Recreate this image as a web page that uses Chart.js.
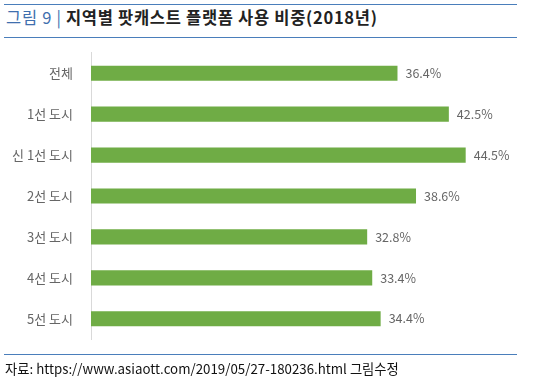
<!DOCTYPE html>
<html>
<head>
<meta charset="UTF-8"/>
<title>지역별 팟캐스트 플랫폼 사용 비중</title>
<script src="https://cdn.jsdelivr.net/npm/chart.js@4"></script>
<style>
    body { margin: 0; background: #fff; font-family: "Noto Sans CJK KR", sans-serif; }
    #wrap { position: relative; width: 534px; height: 387px; }
    .rule { position: absolute; left: 4px; width: 513px; height: 0; border-top: 1.5px solid #4a7ebb; }
    #title { position: absolute; left: 6px; top: 5px; font-size: 16.5px; letter-spacing: 0.7px; white-space: nowrap; }
    #title .num { color: #3f6fae; }
    #title .txt { font-weight: bold; color: #222; }
    #chartBox { position: absolute; left: 0; top: 35px; width: 534px; height: 322px; }
    #source { position: absolute; left: 5px; top: 359px; font-size: 13.3px; color: #111; white-space: nowrap; }
</style>
</head>
<body>
<div id="wrap">
    <div class="rule" style="top:4px"></div>
    <div id="title"><span class="num">그림 9 |</span> <span class="txt">지역별 팟캐스트 플랫폼 사용 비중(2018년)</span></div>
    <div class="rule" style="top:37px"></div>
    <div id="chartBox"><canvas id="barChart" width="534" height="322"></canvas></div>
    <div class="rule" style="top:354px"></div>
    <div id="source">자료: https://www.asiaott.com/2019/05/27-180236.html 그림수정</div>
</div>
<script type="text/javascript">
    // 항목
    var categories = ["전체", "1선 도시", "신 1선 도시", "2선 도시", "3선 도시", "4선 도시", "5선 도시"];
    // 사용 비중(%)
    var shares = [36.4, 42.5, 44.5, 38.6, 32.8, 33.4, 34.4];

    // 막대 끝에 값 표시
    var valueLabels = {
        id: 'valueLabels',
        afterDatasetsDraw: function(chart) {
            var ctx = chart.ctx;
            var meta = chart.getDatasetMeta(0);
            ctx.save();
            ctx.font = '12.5px "Noto Sans CJK KR", sans-serif';
            ctx.fillStyle = '#666';
            ctx.textAlign = 'left';
            ctx.textBaseline = 'middle';
            meta.data.forEach(function(bar, i) {
                ctx.fillText(shares[i].toFixed(1) + '%', bar.x + 8, bar.y);
            });
            ctx.restore();
        }
    };

    var ctx = document.getElementById("barChart").getContext('2d');
    var myChart = new Chart(ctx, {
        type: 'bar',
        data: {
            labels: categories,
            datasets: [{
                data: shares,
                backgroundColor: "#6fac45",
                borderWidth: 0,
                categoryPercentage: 0.74,
                barPercentage: 0.5
            }]
        },
        options: {
            indexAxis: 'y',
            responsive: false,
            animation: false,
            layout: { padding: { top: 0, bottom: 0, right: 22, left: 0 } },
            plugins: {
                legend: { display: false },
                tooltip: { enabled: false }
            },
            scales: {
                x: {
                    display: false,
                    min: 0,
                    max: 50
                },
                y: {
                    grid: { display: false },
                    border: { display: true, color: '#d9d9d9', width: 1 },
                    ticks: {
                        color: '#666',
                        padding: 10,
                        font: { size: 13, family: '"Noto Sans CJK KR", sans-serif' }
                    },
                    afterFit: function(scale) { scale.width = 91; }
                }
            }
        },
        plugins: [valueLabels]
    });
</script>
</body>
</html>
